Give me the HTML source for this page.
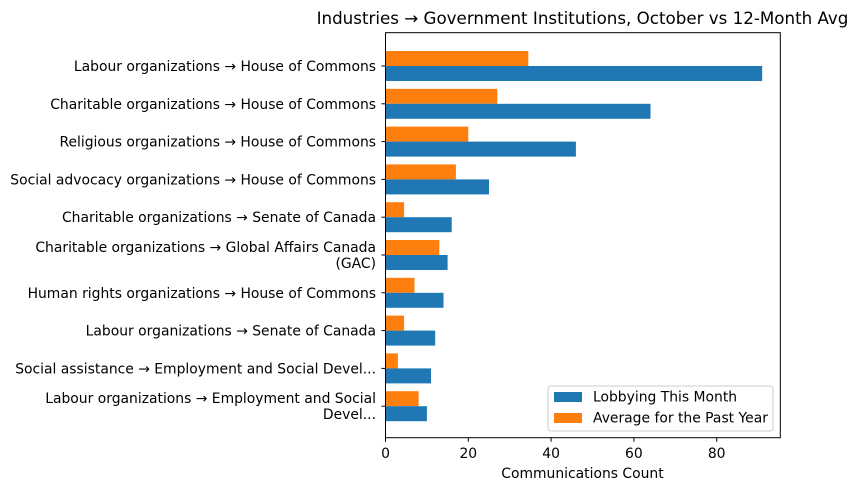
<!DOCTYPE html>
<html><head><style>body{margin:0;background:#fff}svg{display:block;font-family:"DejaVu Sans","Liberation Sans",sans-serif}</style></head>
<body>
<svg width="857" height="491" viewBox="0 0 857 491" xmlns="http://www.w3.org/2000/svg">
<text x="582.5" y="24" font-size="16.7" text-anchor="middle" fill="#000">Industries → Government Institutions, October vs 12-Month Avg</text>
<g fill="#ff7f0e">
<rect x="385.5" y="51" width="142.8" height="15"/>
<rect x="385.5" y="88.8" width="111.8" height="15"/>
<rect x="385.5" y="126.6" width="82.8" height="15"/>
<rect x="385.5" y="164.4" width="70.4" height="15"/>
<rect x="385.5" y="202.2" width="18.6" height="15"/>
<rect x="385.5" y="240" width="53.8" height="15"/>
<rect x="385.5" y="277.8" width="29" height="15"/>
<rect x="385.5" y="315.6" width="18.6" height="15"/>
<rect x="385.5" y="353.4" width="12.4" height="15"/>
<rect x="385.5" y="391.2" width="33.1" height="15"/>
</g>
<g fill="#1f77b4">
<rect x="385.5" y="66" width="376.7" height="15"/>
<rect x="385.5" y="103.8" width="265" height="15"/>
<rect x="385.5" y="141.6" width="190.4" height="15"/>
<rect x="385.5" y="179.4" width="103.5" height="15"/>
<rect x="385.5" y="217.2" width="66.2" height="15"/>
<rect x="385.5" y="255" width="62.1" height="15"/>
<rect x="385.5" y="292.8" width="58" height="15"/>
<rect x="385.5" y="330.6" width="49.7" height="15"/>
<rect x="385.5" y="368.4" width="45.5" height="15"/>
<rect x="385.5" y="406.2" width="41.4" height="15"/>
</g>
<g stroke="#000">
<line x1="381.5" x2="385.5" y1="66" y2="66"/>
<line x1="381.5" x2="385.5" y1="103.8" y2="103.8"/>
<line x1="381.5" x2="385.5" y1="141.6" y2="141.6"/>
<line x1="381.5" x2="385.5" y1="179.4" y2="179.4"/>
<line x1="381.5" x2="385.5" y1="217.2" y2="217.2"/>
<line x1="381.5" x2="385.5" y1="255" y2="255"/>
<line x1="381.5" x2="385.5" y1="292.8" y2="292.8"/>
<line x1="381.5" x2="385.5" y1="330.6" y2="330.6"/>
<line x1="381.5" x2="385.5" y1="368.4" y2="368.4"/>
<line x1="381.5" x2="385.5" y1="406.2" y2="406.2"/>
<line x1="385.5" x2="385.5" y1="437.7" y2="441.7"/>
<line x1="468.3" x2="468.3" y1="437.7" y2="441.7"/>
<line x1="551.1" x2="551.1" y1="437.7" y2="441.7"/>
<line x1="633.9" x2="633.9" y1="437.7" y2="441.7"/>
<line x1="716.7" x2="716.7" y1="437.7" y2="441.7"/>
</g>
<g font-size="13.9" text-anchor="end" fill="#000">
<text x="376" y="71">Labour organizations → House of Commons</text>
<text x="376" y="108.8">Charitable organizations → House of Commons</text>
<text x="376" y="146.6">Religious organizations → House of Commons</text>
<text x="376" y="184.4">Social advocacy organizations → House of Commons</text>
<text x="376" y="222.2">Charitable organizations → Senate of Canada</text>
<text x="376" y="252">Charitable organizations → Global Affairs Canada</text>
<text x="376" y="268">(GAC)</text>
<text x="376" y="297.8">Human rights organizations → House of Commons</text>
<text x="376" y="335.6">Labour organizations → Senate of Canada</text>
<text x="376" y="373.4">Social assistance → Employment and Social Devel...</text>
<text x="376" y="403.2">Labour organizations → Employment and Social</text>
<text x="376" y="419.2">Devel...</text>
</g>
<g font-size="13.9" text-anchor="middle" fill="#000">
<text x="385.5" y="458">0</text>
<text x="468.3" y="458">20</text>
<text x="551.1" y="458">40</text>
<text x="633.9" y="458">60</text>
<text x="716.7" y="458">80</text>
<text x="582.5" y="478">Communications Count</text>
</g>
<rect x="385.5" y="32.7" width="394.8" height="405" fill="none" stroke="#000" stroke-width="1"/>
<rect x="548" y="386" width="225" height="45" rx="3" fill="#fff" fill-opacity="0.8" stroke="#ccc"/>
<rect x="554" y="392" width="28" height="10" fill="#1f77b4"/>
<text x="593" y="401.5" font-size="13.9">Lobbying This Month</text>
<rect x="554" y="413" width="28" height="10" fill="#ff7f0e"/>
<text x="593" y="422.5" font-size="13.9">Average for the Past Year</text>
</svg>
</body></html>
